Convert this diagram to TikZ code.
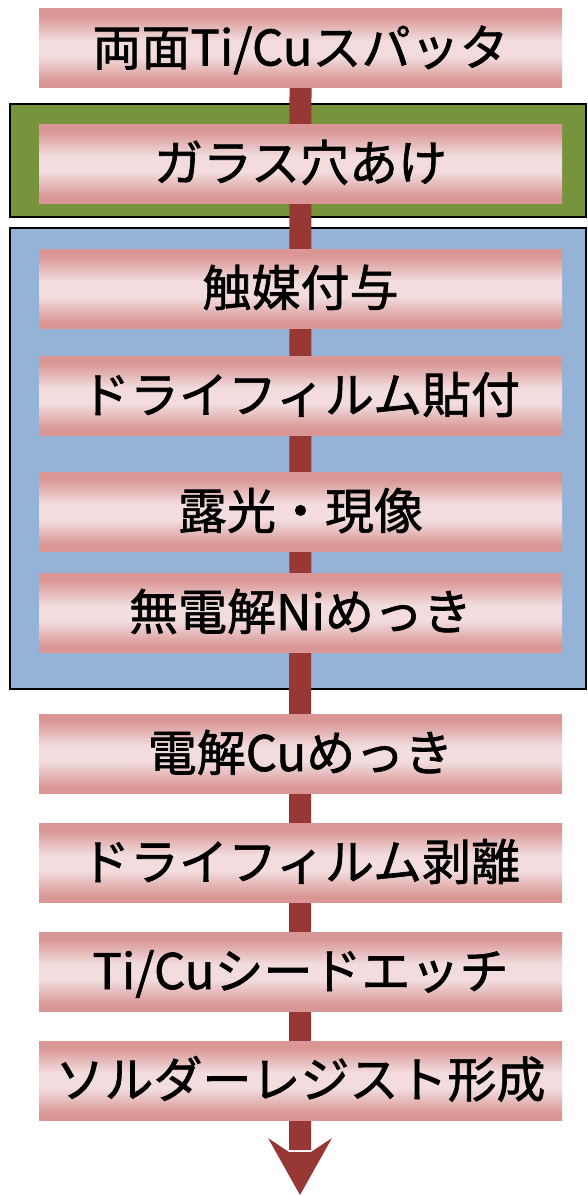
\documentclass[tikz,border=0pt]{standalone}
\usepackage{fontspec}
\newfontfamily\jp{Noto Sans CJK JP}[FakeBold=1.3]
\usetikzlibrary{calc}
\definecolor{bdark}{HTML}{D99694}
\definecolor{blight}{HTML}{F2DCDD}
\definecolor{grn}{HTML}{77933C}
\definecolor{blu}{HTML}{95B3D7}
\definecolor{arr}{HTML}{983835}
\pgfdeclareverticalshading{boxshade}{100bp}{color(0bp)=(bdark); color(25bp)=(bdark); color(29bp)=(bdark); color(45bp)=(blight); color(55bp)=(blight); color(71bp)=(bdark); color(75bp)=(bdark); color(100bp)=(bdark)}
\pgfdeclarelayer{frames}
\pgfdeclarelayer{shaftlayer}
\pgfsetlayers{frames,shaftlayer,main}
\tikzset{
  stepbox/.style={rectangle, minimum width=523pt, minimum height=79pt, inner sep=0pt,
    shading=boxshade, font=\jp\fontsize{49pt}{52pt}\selectfont,
    text height=41pt, text depth=7pt},
  frame/.style={rectangle, draw=black, line width=2pt, inner sep=0pt},
  shaft/.style={draw=arr, line width=22pt},
}
\begin{document}
\begin{tikzpicture}[x=1pt,y=-1pt]
\useasboundingbox (0,0) rectangle (587,1196);
\node[stepbox] (b1) at (300.5,48.5) {両面Ti/Cuスパッタ};
\node[stepbox] (b2) at (300.5,164) {ガラス穴あけ};
\node[stepbox] (b3) at (300.5,289) {触媒付与};
\node[stepbox] (b4) at (300.5,396) {ドライフィルム貼付};
\node[stepbox] (b5) at (300.5,512) {露光・現像};
\node[stepbox] (b6) at (300.5,613) {無電解Niめっき};
\node[stepbox] (b7) at (300.5,754) {電解Cuめっき};
\node[stepbox] (b8) at (300.5,863) {ドライフィルム剥離};
\node[stepbox] (b9) at (300.5,972) {Ti/Cuシードエッチ};
\node[stepbox] (b10) at (300.5,1080.5) {ソルダーレジスト形成};
\coordinate (tip) at (300,1195);
\coordinate (join) at (300,1150);
\begin{pgfonlayer}{frames}
\node[frame, fill=grn, minimum width=576pt, minimum height=113pt] (g) at (298,160.5) {};
\node[frame, fill=blu, minimum width=576pt, minimum height=461pt] (bl) at (298,458.5) {};
\end{pgfonlayer}
\begin{pgfonlayer}{shaftlayer}
\draw[shaft] (b1.south) -- (join);
\fill[arr] (tip) -- ++(-32,-57) -- ++(21,14) -- ++(22,0) -- ++(21,-14) -- cycle;
\end{pgfonlayer}
\end{tikzpicture}
\end{document}
